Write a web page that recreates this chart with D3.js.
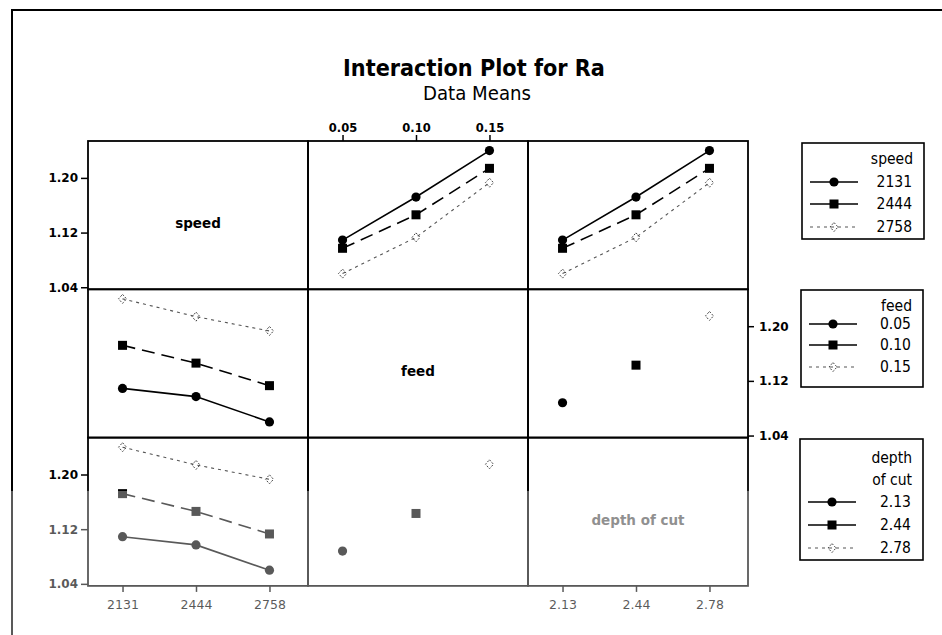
<!DOCTYPE html>
<html>
<head>
<meta charset="utf-8">
<script src="https://cdn.jsdelivr.net/npm/d3@7/dist/d3.min.js"></script>
<style>
  html, body { margin: 0; padding: 0; background: #fff; }
  svg { display: block; }
</style>
</head>
<body>
<script>
// ---------------- DATA ----------------
const speedLevels = ["2131", "2444", "2758"];
const feedLevels  = ["0.05", "0.10", "0.15"];
const depthLevels = ["2.13", "2.44", "2.78"];
const factorNames = ["speed", "feed", "depth of cut"];
// Ra means for each speed level, across feed (= depth of cut) levels
const raSpeed2131 = [1.109, 1.172, 1.240];
const raSpeed2444 = [1.097, 1.146, 1.214];
const raSpeed2758 = [1.060, 1.113, 1.193];
// feed and depth of cut are confounded: one mean per paired level
const raFeedDepth = [1.088, 1.143, 1.215];
const yTicks = [1.04, 1.12, 1.20];

// ---------------- LAYOUT ----------------
const W = 942, H = 635;
const gx0 = 88, gy0 = 141, cw = 220, rh = 148.3;
const svg = d3.select("body").append("svg").attr("width", W).attr("height", H);
svg.append("rect").attr("width", W).attr("height", H).attr("fill", "#fff");

// outer frame
svg.append("path").attr("d", `M12,${H} L12,10 L${W},10`)
  .attr("fill", "none").attr("stroke", "#000").attr("stroke-width", 2);

const levels = [speedLevels, feedLevels, depthLevels];
const speedTable = [raSpeed2131, raSpeed2444, raSpeed2758];

function meanFor(rv, i, cv, j) {
  if (rv === 0) return speedTable[i][j];
  if (cv === 0) return speedTable[j][i];
  return i === j ? raFeedDepth[i] : null;
}

const y = d3.scaleLinear().domain([1.037, 1.254]).range([rh, 0]);
const xs = levels.map(l => d3.scalePoint().domain(l).range([0, 216]).padding(0.47));

const styles = [
  { dash: null, width: 1.6, color: "#000", shape: "circle" },
  { dash: "13,7", width: 1.6, color: "#000", shape: "square" },
  { dash: "3,4", width: 1.1, color: "#555", shape: "diamond" }
];

function drawMarker(g, shape, cx, cy) {
  if (shape === "circle") {
    g.append("circle").attr("cx", cx).attr("cy", cy).attr("r", 4.6).attr("fill", "#000");
  } else if (shape === "square") {
    g.append("rect").attr("x", cx - 4.5).attr("y", cy - 4.5).attr("width", 9).attr("height", 9).attr("fill", "#000");
  } else {
    g.append("path").attr("d", `M${cx},${cy-4.5} L${cx+4},${cy} L${cx},${cy+4.5} L${cx-4},${cy} Z`)
      .attr("fill", "none").attr("stroke", "#444").attr("stroke-width", 1).attr("stroke-dasharray", "2,1.5");
  }
}

for (let r = 0; r < 3; r++) {
  for (let c = 0; c < 3; c++) {
    const g = svg.append("g").attr("transform", `translate(${gx0 + c * cw},${gy0 + r * rh})`);
    if (r === c) {
      g.append("text").attr("x", cw / 2).attr("y", rh / 2 + 13)
        .attr("text-anchor", "middle")
        .attr("font-family", "DejaVu Sans, Verdana, sans-serif")
        .attr("font-weight", "bold").attr("font-size", 13.5)
        .attr("fill", r === 2 ? "#555" : "#000")
        .text(factorNames[r]);
    } else {
      levels[r].forEach((lv, i) => {
        const st = styles[i];
        const pts = levels[c].map((cl, j) => ({ x: xs[c](cl), v: meanFor(r, i, c, j) }))
          .filter(p => p.v !== null);
        if (pts.length > 1) {
          g.append("path")
            .attr("d", d3.line().x(p => p.x).y(p => y(p.v))(pts))
            .attr("fill", "none").attr("stroke", st.color).attr("stroke-width", st.width)
            .attr("stroke-dasharray", st.dash);
        }
        pts.forEach(p => drawMarker(g, st.shape, p.x, y(p.v)));
      });
    }
    g.append("rect").attr("width", cw).attr("height", rh)
      .attr("fill", "none").attr("stroke", "#000").attr("stroke-width", 1.8);
  }
}

// ---------------- AXES ----------------
function styleAxis(sel, bold, size) {
  sel.select(".domain").remove();
  sel.selectAll(".tick line").attr("stroke", "#000").attr("stroke-width", 1.5);
  sel.selectAll(".tick text")
    .attr("font-family", "DejaVu Sans, Verdana, sans-serif")
    .attr("font-weight", bold ? "bold" : "normal")
    .attr("font-size", size).attr("fill", "#000");
}
const fmt = d3.format(".2f");
// top axis (feed)
svg.append("g").attr("transform", `translate(${gx0 + cw},${gy0})`)
  .call(d3.axisTop(xs[1]).tickSize(6).tickPadding(3))
  .call(s => styleAxis(s, true, 11.5));
// bottom axes
svg.append("g").attr("transform", `translate(${gx0},${gy0 + 3 * rh})`)
  .call(d3.axisBottom(xs[0]).tickSize(6).tickPadding(8))
  .call(s => styleAxis(s, false, 12.5));
svg.append("g").attr("transform", `translate(${gx0 + 2 * cw},${gy0 + 3 * rh})`)
  .call(d3.axisBottom(xs[2]).tickSize(6).tickPadding(8))
  .call(s => styleAxis(s, false, 12.5));
// left axes rows 0 and 2
[0, 2].forEach(r => {
  svg.append("g").attr("transform", `translate(${gx0},${gy0 + r * rh})`)
    .call(d3.axisLeft(y).tickValues(yTicks).tickFormat(fmt).tickSize(7).tickPadding(3))
    .call(s => styleAxis(s, true, 12));
});
// right axis row 1
svg.append("g").attr("transform", `translate(${gx0 + 3 * cw},${gy0 + rh})`)
  .call(d3.axisRight(y).tickValues(yTicks).tickFormat(fmt).tickSize(6).tickPadding(5))
  .call(s => styleAxis(s, true, 12));

// ---------------- TITLES ----------------
const narrow = "Liberation Sans Narrow, DejaVu Sans Condensed, DejaVu Sans, sans-serif";
const condensed = "DejaVu Sans Condensed, DejaVu Sans, sans-serif";
const title = svg.append("text").attr("x", 474).attr("y", 76)
  .attr("text-anchor", "middle").attr("font-family", condensed)
  .attr("font-weight", "bold").attr("font-size", 22).attr("font-stretch", "condensed")
  .attr("fill", "#000").text("Interaction Plot for Ra");
const tl = title.node().getComputedTextLength();
title.attr("font-size", 22 * 262 / tl);
const sub = svg.append("text").attr("x", 477).attr("y", 100)
  .attr("text-anchor", "middle").attr("font-family", condensed)
  .attr("font-size", 16).attr("font-stretch", "condensed")
  .attr("fill", "#000").text("Data Means");
const sl = sub.node().getComputedTextLength();
sub.attr("font-size", 16 * 108 / sl);

// ---------------- FADED LOWER AREA (scan) ----------------
svg.append("rect").attr("x", 0).attr("y", 491).attr("width", 792).attr("height", H - 491)
  .attr("fill", "#fff").attr("opacity", 0.35);

// ---------------- LEGENDS ----------------
const legends = [
  { box: [802, 143, 122, 96], title: ["speed"], titleY: [164], itemY: [182, 204, 227], labels: speedLevels },
  { box: [801, 290, 122, 97], title: ["feed"], titleY: [311], itemY: [324, 345, 367], labels: feedLevels },
  { box: [800, 439, 123, 121], title: ["depth", "of cut"], titleY: [463, 485], itemY: [502, 525, 548], labels: depthLevels }
];
legends.forEach(L => {
  const [bx, by, bw, bh] = L.box;
  const g = svg.append("g");
  g.append("rect").attr("x", bx).attr("y", by).attr("width", bw).attr("height", bh)
    .attr("fill", "#fff").attr("stroke", "#000").attr("stroke-width", 1.6);
  L.title.forEach((t, k) => {
    g.append("text").attr("x", bx + bw - 11).attr("y", L.titleY[k])
      .attr("text-anchor", "end").attr("font-family", narrow).attr("font-stretch", "condensed")
      .attr("font-size", 15.5).attr("fill", "#000").text(t);
  });
  L.labels.forEach((lab, i) => {
    const st = styles[i];
    const yy = L.itemY[i];
    const x1 = bx + 8, x2 = bx + 56, xm = bx + 32;
    g.append("line").attr("x1", x1).attr("x2", x2).attr("y1", yy).attr("y2", yy)
      .attr("stroke", st.color).attr("stroke-width", st.width)
      .attr("stroke-dasharray", i === 2 ? "3,4" : null);
    drawMarker(g, st.shape, xm, yy);
    g.append("text").attr("x", bx + bw - 12).attr("y", yy + 5)
      .attr("text-anchor", "end").attr("font-family", narrow).attr("font-stretch", "condensed")
      .attr("font-size", 15.5).attr("fill", "#000").text(lab);
  });
});
</script>
</body>
</html>
